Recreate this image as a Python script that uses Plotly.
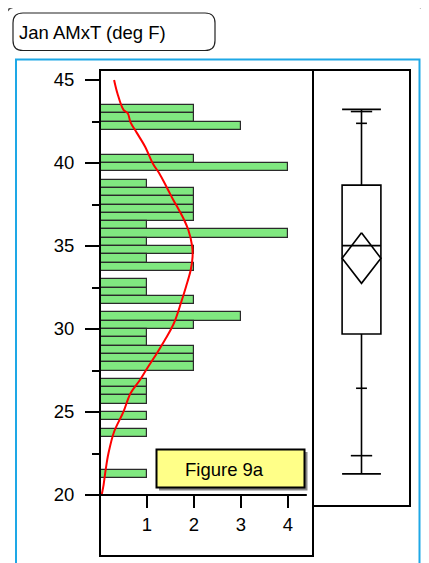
import plotly.graph_objects as go

# ---------------- data ----------------
bin_lower = [43.0, 42.5, 42.0, 40.0, 39.5, 38.5, 38.0, 37.5, 37.0, 36.5, 36.0,
             35.5, 35.0, 34.5, 34.0, 33.5, 32.5, 32.0, 31.5, 30.5, 30.0, 29.5,
             29.0, 28.5, 28.0, 27.5, 26.5, 26.0, 25.5, 24.5, 23.5, 21.0]
counts = [2, 2, 3, 2, 4, 1, 2, 2, 2, 2, 1,
          4, 1, 2, 1, 2, 1, 1, 2, 3, 2, 1,
          1, 2, 2, 2, 1, 1, 1, 1, 1, 1]
bin_width = 0.5

curve_v = [45.0, 44.2, 43.2, 43.0, 42.45, 41.83, 40.98, 39.94, 39.38, 38.48, 37.77,
           37.17, 36.57, 35.96, 35.0, 34.36, 33.55, 32.55, 31.55, 30.54, 29.98,
           29.34, 28.54, 27.53, 26.93, 26.13, 25.02, 23.81, 22.51, 21.51, 20.5, 20.0]
curve_c = [0.30, 0.37, 0.50, 0.59, 0.65, 0.78, 0.96, 1.13, 1.26, 1.43, 1.56,
           1.68, 1.79, 1.88, 1.96, 1.97, 1.93, 1.83, 1.72, 1.60, 1.51,
           1.38, 1.21, 0.98, 0.85, 0.65, 0.50, 0.30, 0.18, 0.12, 0.07, 0.035]

box_min, box_q1, box_median, box_q3, box_max = 21.27, 29.70, 35.02, 38.67, 43.23
mean_val, ci_low, ci_high = 34.26, 32.75, 35.80
quant_vals = [43.10, 42.39, 26.43, 22.37]
quant_frac = [0.55, 0.28, 0.28, 0.55]

y_ticks = [20, 25, 30, 35, 40, 45]
y_minor = [22.5, 27.5, 32.5, 37.5, 42.5]
x_ticks = [1, 2, 3, 4]

title_text = "Jan AMxT (deg F)"
label_text = "Figure 9a"

# ---------------- layout helpers ----------------
OFF = 8  # page body margin
W, H = 429 - OFF, 563 - OFF
def px(x):
    return (x - OFF) / W
def py(y):
    return 1 - (y - OFF) / H

FONT = "Liberation Sans, Arial, sans-serif"
FS = 18.5
BOXW = 0.8

fig = go.Figure()

# histogram bars
fig.add_trace(go.Bar(
    x=counts, y=[b + bin_width / 2 for b in bin_lower], orientation="h",
    width=bin_width, marker=dict(color="#80E880", line=dict(color="#2a2a2a", width=1.2)),
    xaxis="x", yaxis="y", showlegend=False, hoverinfo="skip"))

# density curve
fig.add_trace(go.Scatter(
    x=curve_c, y=curve_v, mode="lines", line=dict(color="#FF0000", width=2, shape="spline"),
    xaxis="x", yaxis="y", showlegend=False, hoverinfo="skip"))

# box plot
fig.add_trace(go.Box(
    x=[0], q1=[box_q1], median=[box_median], q3=[box_q3],
    lowerfence=[box_min], upperfence=[box_max], width=BOXW, whiskerwidth=1,
    fillcolor="rgba(0,0,0,0)", line=dict(color="black", width=1.6),
    xaxis="x2", yaxis="y2", showlegend=False, hoverinfo="skip", boxpoints=False))

# quantile ticks
qx, qy = [], []
for v, f in zip(quant_vals, quant_frac):
    qx += [-BOXW / 2 * f, BOXW / 2 * f, None]
    qy += [v, v, None]
fig.add_trace(go.Scatter(x=qx, y=qy, mode="lines", line=dict(color="black", width=1.6),
                         xaxis="x2", yaxis="y2", showlegend=False, hoverinfo="skip"))

# means diamond
fig.add_trace(go.Scatter(
    x=[0, BOXW / 2, 0, -BOXW / 2, 0], y=[ci_high, mean_val, ci_low, mean_val, ci_high],
    mode="lines", line=dict(color="black", width=1.6),
    xaxis="x2", yaxis="y2", showlegend=False, hoverinfo="skip"))

# axes geometry
y_top_v = 45 + 10 / 16.6
hist_bottom_v = 45 - (556 - 80) / 16.6
box_bottom_v = 45 - (506 - 80) / 16.6

fig.update_layout(
    width=W, height=H, margin=dict(l=0, r=0, t=0, b=0),
    paper_bgcolor="white", plot_bgcolor="rgba(0,0,0,0)",
    font=dict(family=FONT, size=FS, color="black"),
    bargap=0,
    xaxis=dict(domain=[px(100), px(313)], range=[0, 213 / 47], anchor="free",
               position=py(495), side="bottom", showgrid=False, zeroline=False,
               showline=False, tickvals=x_ticks, ticks="outside", ticklen=12,
               tickwidth=2, tickcolor="black", ticklabelstandoff=1,
               tickfont=dict(family=FONT, size=FS)),
    yaxis=dict(domain=[py(556), py(70)], range=[hist_bottom_v, y_top_v],
               anchor="x", showgrid=False, zeroline=False, showline=False,
               tickvals=y_ticks, ticks="outside", ticklen=14, tickwidth=2,
               tickcolor="black", ticklabelstandoff=7,
               minor=dict(tickvals=y_minor, ticks="outside", ticklen=7,
                          tickwidth=2, tickcolor="black"),
               tickfont=dict(family=FONT, size=FS)),
    xaxis2=dict(domain=[px(313), px(410)], range=[-1, 1], anchor="y2",
                showgrid=False, zeroline=False, showline=False,
                showticklabels=False, ticks=""),
    yaxis2=dict(domain=[py(506), py(70)], range=[box_bottom_v, y_top_v],
                anchor="x2", showgrid=False, zeroline=False, showline=False,
                showticklabels=False, ticks=""),
)

shapes = []
# outer rounded frame
r = 10
ox0, ox1, oy0 = 6, 426.5, 7
path = (f"M {px(ox0)},{py(575)} L {px(ox0)},{py(oy0 + r)} "
        f"Q {px(ox0)},{py(oy0)} {px(ox0 + r)},{py(oy0)} "
        f"L {px(ox1 - r)},{py(oy0)} Q {px(ox1)},{py(oy0)} {px(ox1)},{py(oy0 + r)} "
        f"L {px(ox1)},{py(575)}")
shapes.append(dict(type="path", xref="paper", yref="paper", path=path,
                   line=dict(color="#555555", width=1.5)))
# title rounded box
tx0, tx1, ty0, ty1, tr = 13, 215, 13, 50.5, 10
tpath = (f"M {px(tx0 + tr)},{py(ty0)} L {px(tx1 - tr)},{py(ty0)} "
         f"Q {px(tx1)},{py(ty0)} {px(tx1)},{py(ty0 + tr)} "
         f"L {px(tx1)},{py(ty1 - tr)} Q {px(tx1)},{py(ty1)} {px(tx1 - tr)},{py(ty1)} "
         f"L {px(tx0 + tr)},{py(ty1)} Q {px(tx0)},{py(ty1)} {px(tx0)},{py(ty1 - tr)} "
         f"L {px(tx0)},{py(ty0 + tr)} Q {px(tx0)},{py(ty0)} {px(tx0 + tr)},{py(ty0)} Z")
shapes.append(dict(type="path", xref="paper", yref="paper", path=tpath,
                   line=dict(color="#222222", width=1.2)))
# blue panel
shapes.append(dict(type="rect", xref="paper", yref="paper",
                   x0=px(16), x1=px(419.5), y0=py(580), y1=py(59.5),
                   line=dict(color="#1EA8E6", width=2)))
# histogram frame
shapes.append(dict(type="rect", xref="paper", yref="paper",
                   x0=px(100), x1=px(313), y0=py(556), y1=py(70),
                   line=dict(color="black", width=2)))
# box frame
shapes.append(dict(type="rect", xref="paper", yref="paper",
                   x0=px(313), x1=px(410), y0=py(506), y1=py(70),
                   line=dict(color="black", width=2)))
# x axis line at 20
shapes.append(dict(type="line", xref="x", yref="y", x0=0, x1=4.4, y0=20, y1=20,
                   line=dict(color="black", width=2)))
# figure label box with shadow
shapes.append(dict(type="rect", xref="paper", yref="paper",
                   x0=px(159), x1=px(307.5), y0=py(490.5), y1=py(452),
                   fillcolor="#888888", line=dict(width=0)))
shapes.append(dict(type="rect", xref="paper", yref="paper",
                   x0=px(156.5), x1=px(304.5), y0=py(487.5), y1=py(449.5),
                   fillcolor="#FFFF88", line=dict(color="black", width=2)))
fig.update_layout(shapes=shapes)

fig.add_annotation(x=px(17), y=py(32), xref="paper", yref="paper",
                   text=title_text, showarrow=False, xanchor="left", yanchor="middle",
                   font=dict(family=FONT, size=FS, color="black"))
fig.add_annotation(x=px(224), y=py(469), xref="paper", yref="paper",
                   text=label_text, showarrow=False, xanchor="center", yanchor="middle",
                   font=dict(family=FONT, size=FS, color="black"))

fig.write_html("out.html")
